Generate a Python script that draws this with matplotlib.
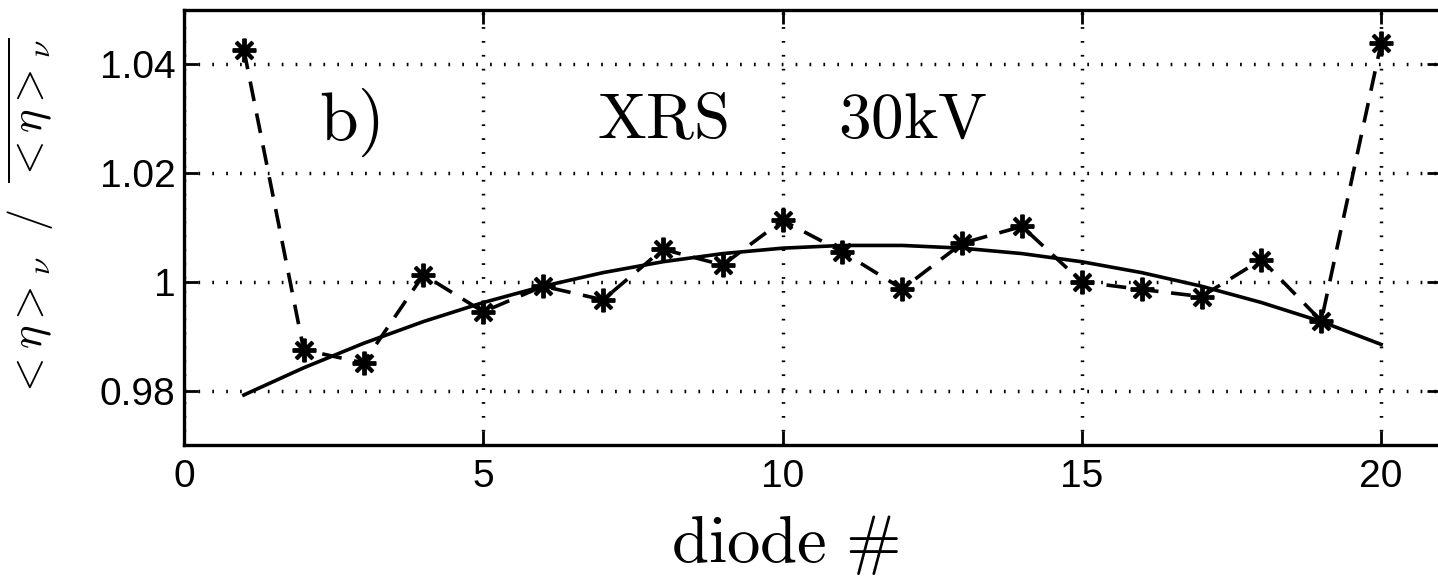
import matplotlib
matplotlib.use("Agg")
import matplotlib.pyplot as plt

plt.rcParams["mathtext.fontset"] = "cm"
plt.rcParams["font.family"] = "Liberation Sans"

diode = [1, 2, 3, 4, 5, 6, 7, 8, 9, 10, 11, 12, 13, 14, 15, 16, 17, 18, 19, 20]
ratio = [1.0427, 0.9875, 0.9851, 1.0013, 0.9945, 0.9992, 0.9967, 1.0060, 1.0031, 1.0113,
         1.0055, 0.9987, 1.0071, 1.0102, 1.0000, 0.9986, 0.9973, 1.0041, 0.9928, 1.0439]
# fitted curve
fit = [0.9792, 0.9842, 0.9887, 0.9927, 0.9962, 0.9992, 1.0017, 1.0037, 1.0052, 1.0062,
       1.0067, 1.0067, 1.0062, 1.0052, 1.0037, 1.0017, 0.9992, 0.9962, 0.9927, 0.9885]

fig = plt.figure(figsize=(14.38, 5.84), dpi=100)
ax = fig.add_axes([184/1438, 139/584, 1257/1438, 435/584])

ax.plot(diode, ratio, "k--", lw=2.6, dashes=(5.5, 3.5), marker=(8, 2, 0), ms=17, mew=2.8)
ax.plot(diode, fit, "k-", lw=2.6)

ax.set_xlim(0, 21)
ax.set_ylim(0.97, 1.05)
ax.set_xticks([0, 5, 10, 15, 20])
ax.set_yticks([0.98, 1.0, 1.02, 1.04])
ax.set_yticklabels(["0.98", "1", "1.02", "1.04"])
ax.grid(True, color="k", linestyle=(0, (0.5, 3.5)), linewidth=2.5)
ax.tick_params(direction="in", length=10, width=2, labelsize=28, top=True, right=True)
ax.tick_params(axis="y", pad=6)
ax.tick_params(axis="x", pad=10)
for s in ax.spines.values():
    s.set_linewidth(2.4)

ax.text(2.25, 1.0262, r"$\mathrm{b)}$", fontsize=50, va="baseline", ha="left")
ax.text(6.9, 1.0265, r"$\mathrm{XRS}$", fontsize=47, va="baseline", ha="left")
ax.text(10.93, 1.0265, r"$\mathrm{30kV}$", fontsize=47, va="baseline", ha="left")

ax.text(0.478, -0.23, r"$\mathrm{diode}\ \#$", fontsize=48, ha="center", va="center",
        transform=ax.transAxes)
ax.text(-0.1225, 0.52, r"$<\eta>_\nu\ \ /\ \ \overline{<\eta>_\nu}$", fontsize=32,
        rotation=90, ha="center", va="center", transform=ax.transAxes)

fig.savefig("out.png", dpi=100)
